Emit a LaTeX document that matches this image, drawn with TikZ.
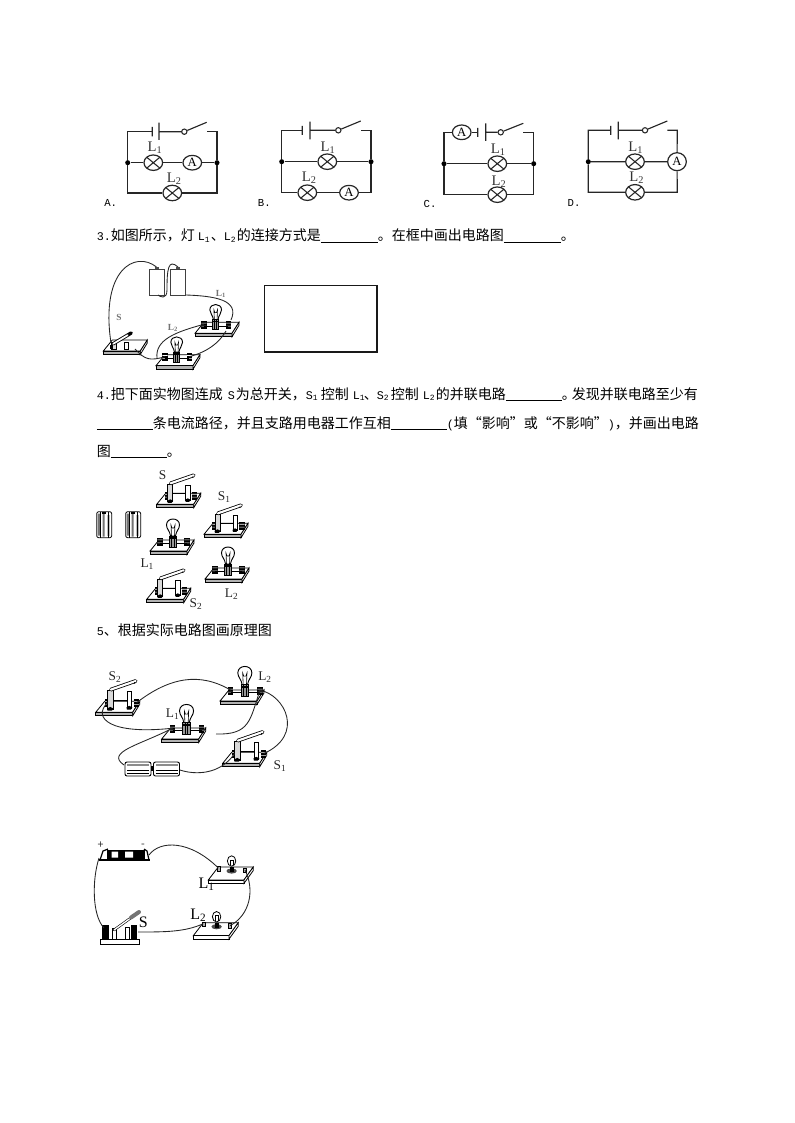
\documentclass[tikz,border=0pt]{standalone}
\usepackage{fontspec}
\usetikzlibrary{shapes.geometric}
\setmainfont{Noto Sans CJK SC}
\newfontfamily\lat{Liberation Mono}
\newfontfamily\ser{Liberation Serif}
\newlength\pxu \setlength\pxu{0.75bp}
\newcommand\Seg[2]{\rlap{\hspace*{#1\pxu}#2}}
\newcommand\Bk[2]{\Seg{#1}{\rule[-1.6bp]{#2\pxu}{0.55bp}}}
\newcommand\La[1]{{\lat\fontsize{8.8bp}{10bp}\selectfont #1}}
\newcommand\Lsub[2]{{\lat\fontsize{8.8bp}{10bp}\selectfont #1\raisebox{-1bp}{\fontsize{6bp}{7bp}\selectfont #2}}}
\newcommand\Sb[2]{#1\textsubscript{#2}}
\tikzset{
 txt/.style={anchor=base west,inner sep=0pt,font=\fontsize{10.5bp}{12bp}\selectfont},
 wire/.style={line width=0.85bp,draw=black!85},
 cwire/.style={line width=0.65bp,draw=black!85},
 lampn/.style={ellipse,draw=black!85,line width=0.9bp,fill=white,inner sep=0pt,minimum width=14bp,minimum height=11.6bp,
   path picture={\draw[line width=0.8bp,black!85] (path picture bounding box.south west)--(path picture bounding box.north east)
      (path picture bounding box.north west)--(path picture bounding box.south east);}},
 meter/.style={ellipse,draw=black!85,line width=0.9bp,fill=white,inner sep=0pt,minimum width=14bp,minimum height=11bp,
   font=\ser\fontsize{9.5bp}{10bp}\selectfont},
 dotn/.style={circle,fill=black,inner sep=0pt,minimum size=3.8bp},
 swc/.style={circle,draw=black!85,line width=0.8bp,fill=white,inner sep=0pt,minimum size=4bp},
 clab/.style={inner sep=0pt,font=\ser\fontsize{11bp}{12bp}\selectfont,text=black!80},
 olab/.style={inner sep=0pt,font=\lat\fontsize{8bp}{10bp}\selectfont},
 plab/.style={inner sep=0pt,font=\ser\fontsize{10bp}{11bp}\selectfont,text=black!85},
 boardf/.style={draw=black,line width=0.6bp,fill=white},
 band/.style={draw=black,line width=0.5bp,fill=black!30},
 pics/woodboard/.style={code={
   \fill[white] (0,0)--(9,-11)--(44,-11)--(44,-8)--(37,3.5)--(0,3.5)--cycle;
   \draw[boardf] (0,0)--(9,-11)--(44,-11)--(37,0)--cycle;
   \draw[band] (0,0)--(37,0)--(37,3.5)--(0,3.5)--cycle;
   \draw[boardf] (37,0)--(44,-11)--(44,-8)--(37,3.5)--cycle;
 }},
 pics/term/.style={code={
   \fill[black] (-2.6,-4.5) rectangle (2.6,3.5);
   \fill[white] (-2.6,-2.4) rectangle (2.6,-1.8) (-2.6,.6) rectangle (2.6,1.1);
 }},
 pics/knifeboard/.style={code={
   \pic {woodboard};
   \coordinate (-l) at (11,-9); \coordinate (-r) at (38,-9);
   \pic at (11,-8) {term}; \pic at (38,-8) {term};
   \draw[line width=0.6bp] (15,-11)--(31,-11);
   \draw[line width=0.6bp,fill=black!15] (11,-3) rectangle (16,-20);
   \draw[line width=0.6bp,fill=white] (29,-4) rectangle (33.5,-19);
   \fill[black] (10.5,-3.5)--(13.5,-5)--(16.5,-3.5)--(15,-1.5)--(11,-1.5)--cycle;
   \fill[black] (28.5,-4.5)--(31,-6)--(34,-4.5)--(32.5,-2.5)--(29,-2.5)--cycle;
   \draw[line width=2.8bp,line cap=round,black] (14,-21)--(37,-29);
   \draw[line width=1.6bp,line cap=round,white] (14,-21)--(37,-29);
   \fill[black] (36,-27.2) circle (0.8);
 }},
 pics/lowknife/.style={code={
   \pic {woodboard};
   \coordinate (-l) at (8,-7); \coordinate (-r) at (31,-4);
   \draw[line width=0.6bp,fill=black!15] (9,-1.5) rectangle (14,-10);
   \draw[line width=0.6bp,fill=white] (23,-2) rectangle (28,-10);
   \fill[black] (7,-2) rectangle (11,-7);
   \draw[line width=2.6bp,line cap=round,black] (11,-8)--(31,-20);
   \draw[line width=1.3bp,line cap=round,white] (11,-8)--(27,-17.6);
 }},
 pics/bulbboard/.style={code={
   \pic {woodboard};
   \coordinate (-l) at (10,-10); \coordinate (-r) at (37,-10);
   \pic at (10,-9) {term}; \pic at (37,-9) {term};
   \draw[line width=0.6bp] (10,-8)--(37,-8);
   \draw[line width=0.7bp,fill=white] (20.5,-15) .. controls (20,-20) and (16.5,-22) .. (16.5,-26) .. controls (16.5,-34) and (29.5,-34) .. (29.5,-26) .. controls (29.5,-22) and (26,-20) .. (25.5,-15) -- cycle;
   \draw[line width=0.45bp] (21.5,-15)--(21,-26)--(22,-23)--(24,-23)--(25,-26)--(24.5,-15);
   \draw[line width=0.6bp,fill=black!40] (19.5,-15) rectangle (26.5,-4);
   \draw[line width=0.5bp,black] (21.5,-15)--(21.5,-4) (24,-15)--(24,-4);
   \fill[black] (19.5,-14) rectangle (26.5,-12);
 }},
 pics/plaincell/.style={code={
   \draw[line width=0.7bp,draw=black!75,fill=white] (0,0) rectangle (15,26);
   \fill[black!70] (5.5,-2) rectangle (9.5,0);
 }},
 pics/cellv/.style={code={
   \draw[line width=0.6bp,fill=white,rounded corners=1.5] (0,0) rectangle (15,26);
   \fill[black!55] (1,2) rectangle (3.5,24) (6,1) rectangle (8,25);
   \fill[black!25] (10,3) rectangle (13.5,24);
   \fill[black] (5.5,0) rectangle (9.5,2);
   \draw[line width=0.3bp] (3.5,0)--(3.5,26) (11,0)--(11,26);
 }},
 pics/cellh/.style={code={
   \draw[line width=0.7bp,fill=white,rounded corners=1.5] (0,0) rectangle (26,14);
   \fill[black!45] (2,2) rectangle (24,4);
   \draw[line width=0.3bp] (2,8)--(24,8) (2,11)--(24,11);
 }},
 pics/thinboard/.style={code={
   \draw[line width=0.6bp,fill=white] (0,0)--(10,-13)--(45,-13)--(35.6,0)--cycle;
   \draw[line width=0.6bp,fill=white] (0,0)--(35.6,0)--(35.6,3.5)--(0,3.5)--cycle;
   \draw[line width=0.6bp,fill=white] (35.6,0)--(45,-13)--(45,-9.5)--(35.6,3.5)--cycle;
   \coordinate (-l) at (10,-12); \coordinate (-r) at (36.7,-10);
   \draw[line width=0.6bp,fill=black!30] (9,-13.5) rectangle (12,-9);
   \draw[line width=0.6bp,fill=black!30] (35.5,-12) rectangle (38.5,-7.5);
   \fill[black!70] (23.3,-9) ellipse (5.2 and 2.6);
   \fill[black] (21.5,-13) rectangle (25.5,-8);
   \draw[line width=0.6bp,fill=white] (23.3,-19) ellipse (4.2 and 5.2);
   \draw[line width=0.4bp] (22,-15)--(22,-20)--(24.6,-20)--(24.6,-15);
 }},
}
\begin{document}
\begin{tikzpicture}[x=0.75bp,y=-0.75bp]
\useasboundingbox (0,0) rectangle (794,1123);

% ---------- Option A
\coordinate (atl) at (127.7,131.7); \coordinate (atr) at (217,131.7);
\coordinate (abl) at (127.7,193); \coordinate (abr) at (217,193);
\node[dotn] (aj1) at (127.7,162.7) {}; \node[dotn] (aj2) at (217,162.7) {};
\coordinate (as) at (152.3,131.7); \coordinate (al) at (159,131.7);
\coordinate (as1) at (152.3,127); \coordinate (as2) at (152.3,136.5);
\coordinate (al1) at (159,122.7); \coordinate (al2) at (159,140);
\node[swc] (asw) at (184.3,131.7) {}; \coordinate (asa) at (206.7,122.3); \coordinate (asb) at (207.3,131.7);
\node[lampn] (aL1) at (153.3,162.7) {}; \node[meter] (aA) at (192.3,162.7) {A};
\node[lampn] (aL2) at (172.3,193) {};
\draw[wire] (as)--(atl)--(aj1) (aj1)--(aL1)--(aA)--(aj2)--(atr)--(asb);
\draw[wire] (aj1)--(abl)--(aL2)--(abr)--(aj2);
\draw[wire] (as1)--(as2) (al1)--(al2) (al)--(asw) (asw)--(asa);
\node[clab] (atL1) at (155,147.5) {\Sb{L}{1}}; \node[clab] (atL2) at (174.3,179) {\Sb{L}{2}};
\node[olab] (atA) at (110.7,203) {A.};

% ---------- Option B
\coordinate (btl) at (281.7,130.3); \coordinate (btr) at (371,130.3);
\coordinate (bbl) at (281.7,192.7); \coordinate (bbr) at (371,192.7);
\node[dotn] (bj1) at (281.7,161.7) {}; \node[dotn] (bj2) at (371,161.7) {};
\coordinate (bs) at (302.3,130.3); \coordinate (bl) at (310,130.3);
\coordinate (bs1) at (302.3,126); \coordinate (bs2) at (302.3,135);
\coordinate (bl1) at (310,121.7); \coordinate (bl2) at (310,139.3);
\node[swc] (bsw) at (338.3,130.3) {}; \coordinate (bsa) at (360.7,121); \coordinate (bsb) at (360.7,130.3);
\node[lampn] (bL1) at (327.3,161.7) {};
\node[lampn] (bL2) at (307.3,192.7) {}; \node[meter] (bA) at (349,192.7) {A};
\draw[wire] (bs)--(btl)--(bj1)--(bL1)--(bj2)--(btr)--(bsb);
\draw[wire] (bj1)--(bbl)--(bL2)--(bA)--(bbr)--(bj2);
\draw[wire] (bs1)--(bs2) (bl1)--(bl2) (bl)--(bsw) (bsw)--(bsa);
\node[clab] (btL1) at (328,148) {\Sb{L}{1}}; \node[clab] (btL2) at (309.3,178) {\Sb{L}{2}};
\node[olab] (btB) at (264.3,203) {B.};

% ---------- Option C
\coordinate (ctl) at (444,132.3); \coordinate (ctr) at (533.7,132.3);
\coordinate (cbl) at (444,194.7); \coordinate (cbr) at (533.7,194.7);
\node[dotn] (cj1) at (444,163.7) {}; \node[dotn] (cj2) at (533.7,163.7) {};
\node[meter] (cA) at (461.7,132.3) {A};
\coordinate (cs) at (477.7,132.3); \coordinate (cl) at (485.7,132.3);
\coordinate (cs1) at (477.7,128); \coordinate (cs2) at (477.7,137);
\coordinate (cl1) at (485.7,123.5); \coordinate (cl2) at (485.7,141);
\node[swc] (csw) at (500.7,132.3) {}; \coordinate (csa) at (523.3,123.3); \coordinate (csb) at (523.3,132.3);
\node[lampn] (cL1) at (497.3,163.7) {}; \node[lampn] (cL2) at (497.3,194.7) {};
\draw[wire] (cs)--(cA)--(ctl)--(cj1)--(cL1)--(cj2)--(ctr)--(csb);
\draw[wire] (cj1)--(cbl)--(cL2)--(cbr)--(cj2);
\draw[wire] (cs1)--(cs2) (cl1)--(cl2) (cl)--(csw) (csw)--(csa);
\node[clab] (ctL1) at (498.3,150) {\Sb{L}{1}}; \node[clab] (ctL2) at (499,182) {\Sb{L}{2}};
\node[olab] (ctC) at (430,203.5) {C.};

% ---------- Option D
\coordinate (dtl) at (588.3,130.3); \coordinate (dtr) at (677.3,130.3);
\coordinate (dbl) at (588.3,192.3); \coordinate (dbr) at (677.3,192.3);
\node[dotn] (dj1) at (588.3,161.7) {};
\coordinate (ds) at (610.7,130.3); \coordinate (dl) at (618.3,130.3);
\coordinate (ds1) at (610.7,126); \coordinate (ds2) at (610.7,135);
\coordinate (dl1) at (618.3,121.7); \coordinate (dl2) at (618.3,139.3);
\node[swc] (dsw) at (645,130.3) {}; \coordinate (dsa) at (667.3,121); \coordinate (dsb) at (667.3,130.3);
\node[lampn] (dL1) at (635,161.7) {}; \node[lampn] (dL2) at (635,192.3) {};
\node[meter,minimum height=13.5bp] (dA) at (677,161.7) {A};
\draw[wire] (ds)--(dtl)--(dj1)--(dL1)--(dA)--(dtr)--(dsb);
\draw[wire] (dj1)--(dbl)--(dL2)--(dbr)--(dA);
\draw[wire] (ds1)--(ds2) (dl1)--(dl2) (dl)--(dsw) (dsw)--(dsa);
\node[clab] (dtL1) at (635.7,148) {\Sb{L}{1}}; \node[clab] (dtL2) at (636.7,178) {\Sb{L}{2}};
\node[olab] (dtD) at (574,203) {D.};

% ---------- Text
\node[txt] (q3) at (96,241) {\Seg{0}{\La{3.}}\Seg{14}{如图所示，灯}\Seg{101}{\Lsub{L}{1}}\Seg{114}{、}\Seg{127}{\Lsub{L}{2}}\Seg{140}{的连接方式是}\Bk{224}{57}\Seg{281}{。}\Seg{295}{在框中画出电路图}\Bk{407}{57}\Seg{464}{。}};
\node[txt] (q4a) at (96,399) {\Seg{0}{\La{4.}}\Seg{14}{把下面实物图连成}\Seg{131}{\La{S}}\Seg{139}{为总开关，}\Seg{209}{\Lsub{S}{1}}\Seg{224}{控制}\Seg{256}{\Lsub{L}{1}}\Seg{267}{、}\Seg{280}{\Lsub{S}{2}}\Seg{294}{控制}\Seg{326}{\Lsub{L}{2}}\Seg{339}{的并联电路}\Bk{409}{56}\Seg{465}{。}\Seg{475}{发现并联电路至少有}};
\node[txt] (q4b) at (96,428) {\Bk{0}{56}\Seg{56}{条电流路径，并且支路用电器工作互相}\Bk{294}{56}\Seg{350}{\La{(}}\Seg{357}{填“影响”或“不影响”}\Seg{511}{\La{)}}\Seg{518}{，并画出电路}};
\node[txt] (q4c) at (96,456) {\Seg{0}{图}\Bk{14}{56}\Seg{70}{。}};
\node[txt] (q5) at (96,635) {\Seg{0}{\La{5}}\Seg{7}{、根据实际电路图画原理图}};

% ---------- Figure 3
\pic (f3c1) at (149,269) {plaincell};
\pic (f3c2) at (170.7,269) {plaincell};
\pic[scale=.9] (f3L1) at (195,333.3) {bulbboard};
\pic[scale=.9] (f3L2) at (156,365.7) {bulbboard};
\pic[scale=.9] (f3S) at (103.3,351) {lowknife};
\coordinate (f3bl) at (156.5,267); \coordinate (f3br) at (178,267);
\coordinate (f3bb) at (158,295); \coordinate (f3bc) at (186,295);
\coordinate (f3sr) at (135,349); \coordinate (f3bt) at (157,361);
\coordinate (f3lb) at (226,331); \coordinate (f3la) at (231,320);
\draw[cwire] (f3bl) .. controls (135,250) and (100,270) .. (111,343);
\draw[cwire] (f3br) .. controls (168,258) and (167,270) .. (167,290) .. controls (167,300) and (160,297) .. (f3bb);
\draw[cwire] (f3bc) .. controls (215,296) and (240,300) .. (f3la);
\draw[cwire] (f3L1-l) .. controls (175,332) and (155,340) .. (157,358);
\draw[cwire] (f3lb) .. controls (215,350) and (195,355) .. (f3L2-r);
\draw[cwire] (f3sr) .. controls (145,360) and (150,361) .. (f3L2-l);
\node[plab,font=\ser\bfseries\fontsize{7bp}{8bp}\selectfont,text=black!55] (f3tS) at (119,317) {S};
\node[plab,font=\ser\bfseries\fontsize{7bp}{8bp}\selectfont,text=black!55] (f3tL1) at (221,294) {\Sb{L}{1}};
\node[plab,font=\ser\bfseries\fontsize{7bp}{8bp}\selectfont,text=black!55] (f3tL2) at (173,328) {\Sb{L}{2}};
\node[draw=black!90,line width=1.2bp,inner sep=0pt,minimum width=84.3bp,minimum height=50.2bp] (f3box) at (320.5,318.8) {};

% ---------- Figure 4
\pic (f4c1) at (96.7,511.7) {cellv};
\pic (f4c2) at (125.7,511.7) {cellv};
\pic (f4S) at (156.7,504.3) {knifeboard};
\pic (f4S1) at (204,534.3) {knifeboard};
\pic (f4L1) at (150,551) {bulbboard};
\pic (f4L2) at (205,579) {bulbboard};
\pic (f4S2) at (146.7,599.3) {knifeboard};
\node[plab] (f4tS) at (162.7,475) {S};
\node[plab] (f4tS1) at (224.3,497.3) {\Sb{S}{1}};
\node[plab] (f4tL1) at (147.3,564.3) {\Sb{L}{1}};
\node[plab] (f4tL2) at (231.7,594.3) {\Sb{L}{2}};
\node[plab] (f4tS2) at (196,604.3) {\Sb{S}{2}};

% ---------- Figure 5
\pic[scale=1.08] (f5S2) at (95.7,712.3) {knifeboard};
\pic[scale=1.08] (f5L2) at (220,701) {bulbboard};
\pic[scale=1.08] (f5L1) at (161.7,739) {bulbboard};
\pic[scale=1.08] (f5S1) at (222.7,763.3) {knifeboard};
\pic (f5c1) at (125,762) {cellh};
\pic (f5c2) at (153.5,762) {cellh};
\coordinate (f5bl) at (124,765); \coordinate (f5br) at (180,770);
\fill[black] (150.5,766) rectangle (153.8,771);
\coordinate (f5L1e) at (216,734);
\draw[cwire] (f5S2-r) .. controls (170,677) and (200,672) .. (f5L2-l);
\draw[cwire] (f5S2-l) .. controls (92,718) and (110,735) .. (f5L1-l);
\draw[cwire] (f5L1-l) .. controls (140,745) and (105,752) .. (f5bl);
\draw[cwire] (f5L1e) .. controls (250,735) and (250,720) .. (f5L2-r);
\draw[cwire] (f5L2-r) .. controls (285,695) and (305,735) .. (f5S1-r);
\draw[cwire] (f5br) .. controls (195,775) and (220,775) .. (f5S1-l);
\node[plab] (f5tS2) at (115,676.7) {\Sb{S}{2}};
\node[plab] (f5tL2) at (265,676.7) {\Sb{L}{2}};
\node[plab] (f5tL1) at (172.7,714.3) {\Sb{L}{1}};
\node[plab] (f5tS1) at (280,766) {\Sb{S}{1}};

% ---------- Figure 6
\pic (f6L1) at (208.3,880) {thinboard};
\pic (f6L2) at (193.3,935.7) {thinboard};
% battery holder
\fill[black] (99,858.5) rectangle (149.5,861);
\fill[black] (107,850) rectangle (145,859);
\fill[white] (111.7,851.5) rectangle (118,857.5) (125,851.5) rectangle (133,857.5);
\draw[line width=0.9bp] (100,860)--(103,851)--(108,849);
\draw[line width=0.9bp] (149,860)--(147,851)--(144,849);
\coordinate (f6bp) at (99,858); \coordinate (f6bm) at (149,855);
% switch S
\draw[line width=0.6bp,fill=white] (100.7,939.5) rectangle (139,944.5);
\fill[black] (102,925) rectangle (108.5,939.5);
\fill[black] (131,925) rectangle (137,939.5);
\draw[line width=0.6bp,fill=white] (112,928) rectangle (116,939.5);
\draw[line width=0.6bp,fill=white] (125,927) rectangle (129,939.5);
\draw[line width=1.9bp,line cap=round] (114,930)--(139,912);
\draw[line width=1bp,line cap=round,white] (114,930)--(139,912);
\draw[line width=3bp,line cap=round,black!55] (131,917.5)--(139,912);
\coordinate (f6sl) at (104,928); \coordinate (f6sr) at (138,932);
\draw[cwire] (f6bm) .. controls (160,840) and (190,840) .. (f6L1-l);
\draw[cwire] (f6L1-r) .. controls (255,890) and (250,915) .. (f6L2-r);
\draw[cwire] (f6sr) .. controls (165,932) and (185,932) .. (f6L2-l);
\draw[cwire] (f6sl) .. controls (92,915) and (92,880) .. (f6bp);
\node[plab,font=\fontsize{8bp}{9bp}\selectfont] (f6tp) at (100.7,845) {+};
\node[plab,font=\fontsize{8bp}{9bp}\selectfont] (f6tm) at (143,846) {-};
\node[clab,text=black,font=\ser\fontsize{12bp}{13bp}\selectfont] (f6tL1) at (206.7,884.3) {\Sb{L}{1}};
\node[clab,text=black,font=\ser\fontsize{12bp}{13bp}\selectfont] (f6tL2) at (198.3,915) {\Sb{L}{2}};
\node[clab,text=black,font=\ser\fontsize{12bp}{13bp}\selectfont] (f6tS) at (143.3,922) {S};
\end{tikzpicture}
\end{document}
